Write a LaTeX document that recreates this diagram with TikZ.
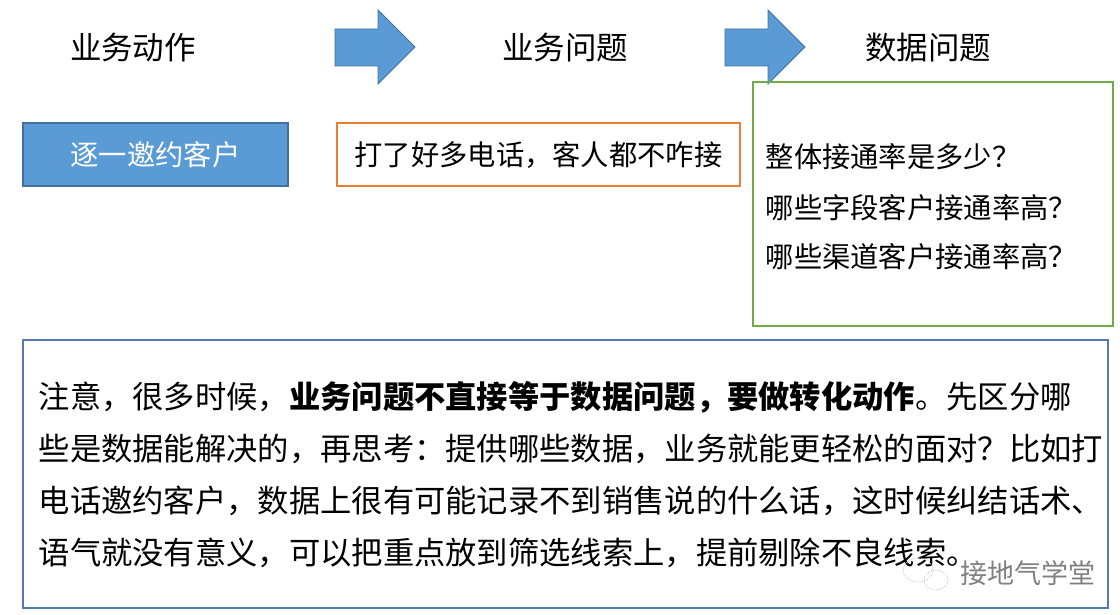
\documentclass[tikz,border=0pt]{standalone}
\usepackage{fontspec}
\setmainfont{Noto Sans CJK SC}
\definecolor{actblue}{RGB}{91,155,213}
\definecolor{actedge}{RGB}{65,113,156}
\definecolor{askorange}{RGB}{237,125,49}
\definecolor{datagreen}{RGB}{112,173,71}
\definecolor{noteblue}{RGB}{84,121,180}
\tikzset{every picture/.style={line width=1.5pt}}
\tikzset{
  head/.style={font=\fontsize{31.5}{36}\selectfont, inner sep=0},
  boxtext/.style={font=\fontsize{28.3}{32}\selectfont, inner sep=0},
  noteline/.style={font=\fontsize{31.3}{36}\selectfont, inner sep=0, anchor=west},
}

\begin{document}
\begin{tikzpicture}[x=1pt,y=1pt,yscale=-1]
        \useasboundingbox (0,0) rectangle (1120,615);

        %Headers
        \node [head] (act) at (133,48) {业务动作};
        \node [head] (biz) at (565,48) {业务问题};
        \node [head] (dat) at (928,48) {数据问题};

        %Shape: Right Arrow
        \draw [color=actedge, fill=actblue, line width=0.8pt] (335,29) -- (378,29) -- (378,10) -- (415,47) -- (378,84) -- (378,66) -- (335,66) -- cycle ;
        %Shape: Right Arrow
        \draw [color=actedge, fill=actblue, line width=0.8pt] (725,29) -- (768,29) -- (768,10) -- (805,47) -- (768,84) -- (768,66) -- (725,66) -- cycle ;

        %Shape: Rectangle
        \draw [color=actedge, fill=actblue] (23,123) rectangle (288,186) ;
        \node [boxtext, text=white] (invite) at (155.5,155) {逐一邀约客户};
        %Shape: Rectangle
        \draw [color=askorange] (337,123) rectangle (740,186) ;
        \node [boxtext] (calls) at (538.5,155) {打了好多电话，客人都不咋接};
        %Shape: Rectangle
        \draw [color=datagreen] (753,82) rectangle (1113,326) ;
        \node [boxtext, anchor=west] (rate) at (765,157) {整体接通率是多少？};
        \node [boxtext, anchor=west] (field) at (765,208) {哪些字段客户接通率高？};
        \node [boxtext, anchor=west] (channel) at (765,257) {哪些渠道客户接通率高？};

        %Shape: Rectangle
        \draw [color=noteblue] (23,340) rectangle (1108,608) ;
        \node [noteline] (note1) at (38,397) {注意，很多时候，\textbf{业务问题不直接等于数据问题，要做转化动作}。先区分哪};
        \node [noteline] (note2) at (38,449) {些是数据能解决的，再思考：提供哪些数据，业务就能更轻松的面对？比如打};
        \node [noteline] (note3) at (38,501) {电话邀约客户，数据上很有可能记录不到销售说的什么话，这时候纠结话术、};
        \node [noteline] (note4) at (38,553) {语气就没有意义，可以把重点放到筛选线索上，提前剔除不良线索。};

        %Watermark
        \draw [color=gray!45, line width=0.8pt, densely dotted] (918,570) ellipse (15 and 12) ;
        \draw [color=gray!45, line width=0.8pt, densely dotted] (936,580) ellipse (12 and 10) ;
        \node [font=\fontsize{27}{32}\selectfont, inner sep=0, text=gray, anchor=west] (mark) at (960,573) {接地气学堂};

\end{tikzpicture}
\end{document}
